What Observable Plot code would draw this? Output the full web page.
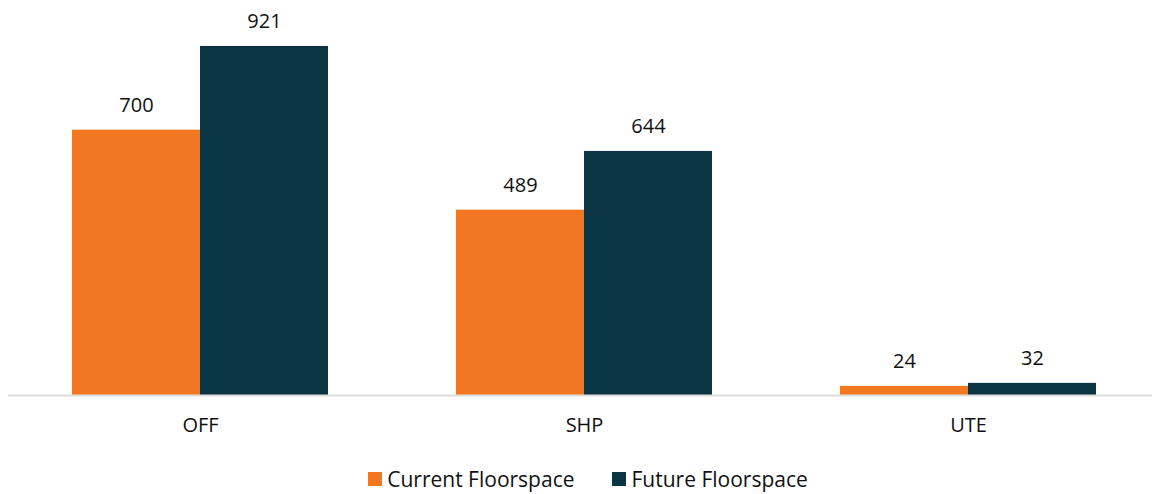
<!DOCTYPE html>
<html>
<head>
<meta charset="utf-8">
<script src="https://cdn.jsdelivr.net/npm/d3@7"></script>
<script src="https://cdn.jsdelivr.net/npm/@observablehq/plot@0.6"></script>
<style>
  body { margin: 0; background: #fff; font-family: "Open Sans", sans-serif; }
  #legend { display: flex; justify-content: center; align-items: center; gap: 38px; height: 30px; margin-top: 14px; padding-left: 24px; font-size: 21px; color: #111; }
  .item { display: flex; align-items: center; gap: 5px; }
  .sw { width: 14px; height: 14px; display: inline-block; }
</style>
</head>
<body>
<div id="chart"></div>
<div id="legend"></div>
<script>
const categories = ["OFF", "SHP", "UTE"];
const series = ["Current Floorspace", "Future Floorspace"];
const currentValues = [700, 489, 24];
const futureValues = [921, 644, 32];
const colors = ["#F37621", "#0C3544"];

const data = [];
categories.forEach((c, i) => {
  data.push({cat: c, series: series[0], value: currentValues[i]});
  data.push({cat: c, series: series[1], value: futureValues[i]});
});
const cur = data.filter(d => d.series === series[0]);
const fut = data.filter(d => d.series === series[1]);

const chart = Plot.plot({
  width: 1152,
  height: 450,
  marginTop: 16,
  marginBottom: 55,
  marginLeft: 8,
  marginRight: 0,
  style: {fontFamily: "Open Sans, sans-serif", fontSize: "20px", color: "#111"},
  x: {domain: categories, range: [8, 1160], paddingInner: 1/3, paddingOuter: 1/6, label: null},
  y: {domain: [0, 1000], axis: null},
  color: {domain: series, range: colors},
  marks: [
    Plot.barY(cur, {x: "cat", y: "value", fill: "series", insetRight: 128}),
    Plot.barY(fut, {x: "cat", y: "value", fill: "series", insetLeft: 128}),
    Plot.ruleY([0], {stroke: "#ddd", strokeWidth: 2}),
    Plot.text(cur, {x: "cat", y: "value", text: d => String(d.value), dx: -64, dy: -25, fontSize: 20, fill: "#111"}),
    Plot.text(fut, {x: "cat", y: "value", text: d => String(d.value), dx: 64, dy: -25, fontSize: 20, fill: "#111"}),
    Plot.axisX({tickSize: 0, tickPadding: 22, fontSize: 20, label: null})
  ]
});
document.getElementById("chart").appendChild(chart);

const legend = document.getElementById("legend");
series.forEach((s, i) => {
  const item = document.createElement("span");
  item.className = "item";
  const sw = document.createElement("span");
  sw.className = "sw";
  sw.style.background = colors[i];
  const t = document.createElement("span");
  t.textContent = s;
  item.appendChild(sw);
  item.appendChild(t);
  legend.appendChild(item);
});
</script>
</body>
</html>
